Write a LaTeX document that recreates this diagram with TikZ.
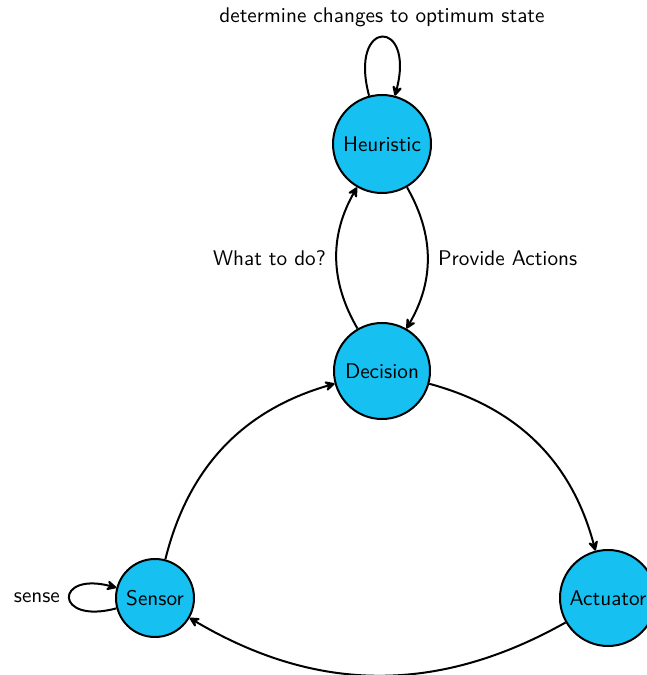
\documentclass[tikz,border=0pt]{standalone}
\usetikzlibrary{arrows.meta}
\definecolor{statefill}{RGB}{22,192,241}
\begin{document}
\begin{tikzpicture}[x=0.5pt,y=0.5pt,
  font=\fontsize{10.6}{12.7}\selectfont\sffamily,
  st/.style={circle, draw, line width=1pt, fill=statefill, inner sep=0pt},
  link/.style={-{Stealth[length=6.5pt,width=6.5pt,inset=2.6pt,round]}, line width=1pt}]
\useasboundingbox (0,0) rectangle (647,675);
% states
\node[st, minimum size=49pt] (heur) at (382,531) {Heuristic};
\node[st, minimum size=48pt] (dec)  at (382,304) {Decision};
\node[st, minimum size=39pt] (sens) at (155,77)  {Sensor};
\node[st, minimum size=48pt] (act)  at (608,77)  {Actuator};
% transitions
\draw[link] (heur) to[loop above] node[above=1.5pt] {determine changes to optimum state} (heur);
\draw[link] (dec) to[bend left=30] node[midway, left=1.5pt] {What to do?} (heur);
\draw[link] (heur) to[bend left=30] node[midway, right=1.5pt] {Provide Actions} (dec);
\draw[link] (sens) to[bend left=30] (dec);
\draw[link] (dec) to[bend left=30] (act);
\draw[link] (act) to[bend left=30] (sens);
\draw[link] (sens) to[loop left] node[left=1pt] {sense} (sens);
\end{tikzpicture}
\end{document}
